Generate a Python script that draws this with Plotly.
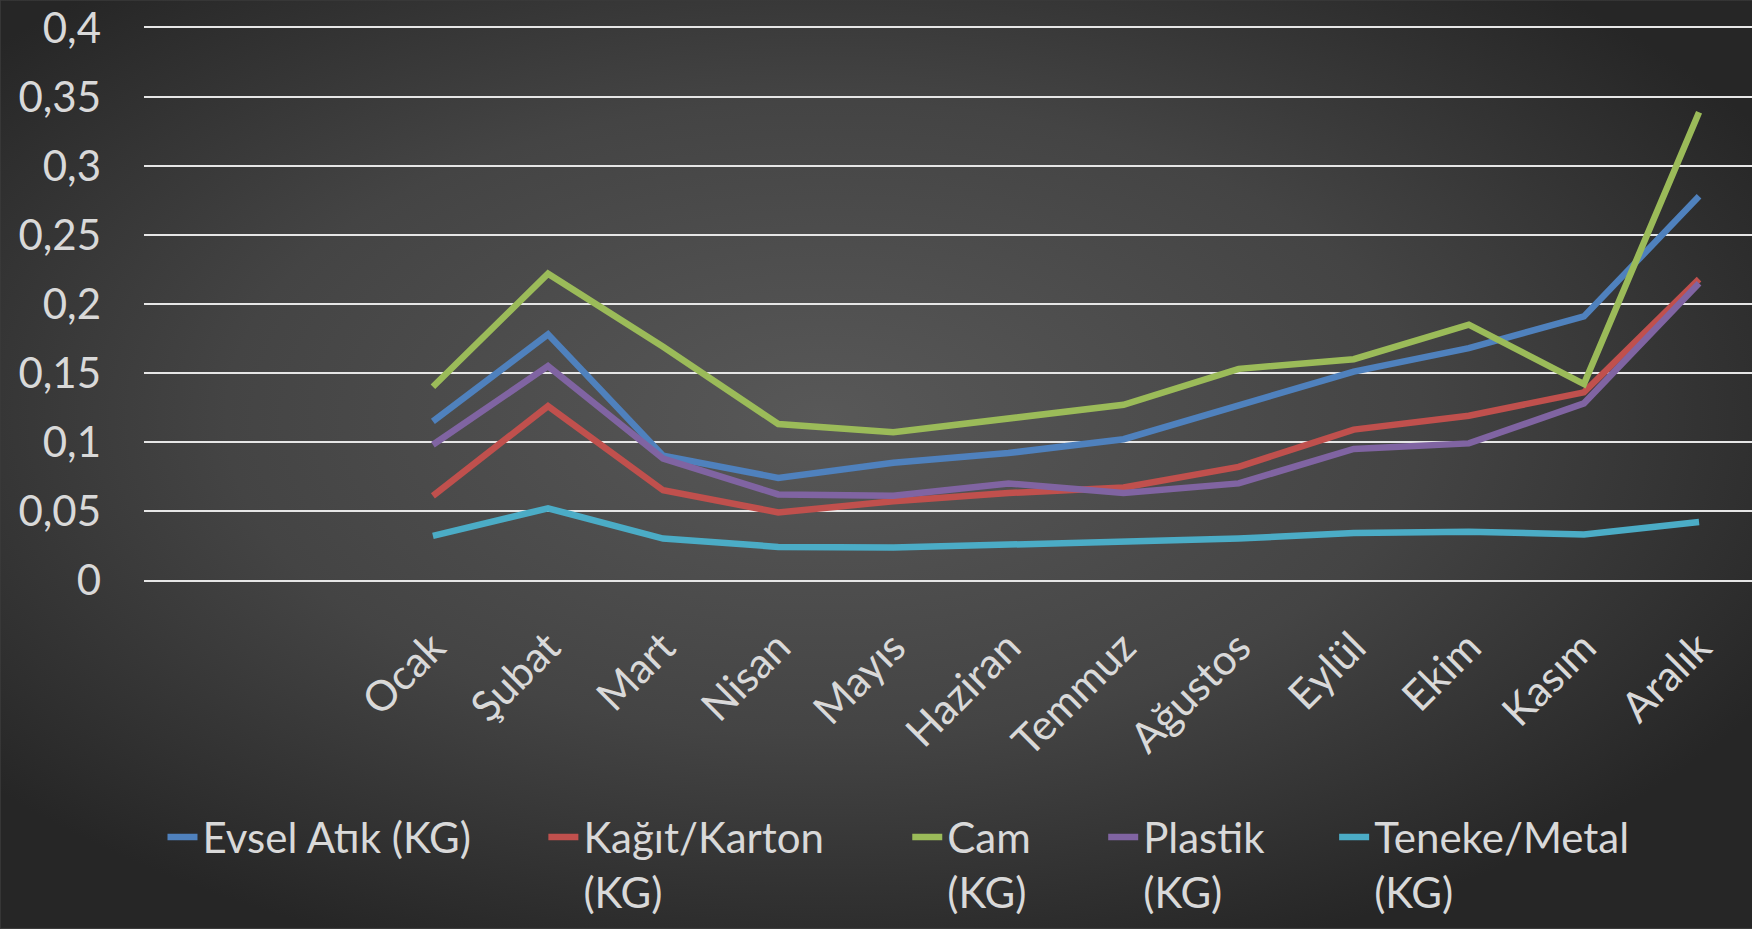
import base64
import plotly.graph_objects as go

months = ["Ocak", "Şubat", "Mart", "Nisan", "Mayıs", "Haziran", "Temmuz",
          "Ağustos", "Eylül", "Ekim", "Kasım", "Aralık"]
evsel = [0.115, 0.178, 0.090, 0.074, 0.085, 0.092, 0.102, 0.127, 0.151, 0.168, 0.191, 0.278]
kagit = [0.061, 0.126, 0.065, 0.049, 0.057, 0.063, 0.067, 0.082, 0.109, 0.119, 0.136, 0.218]
cam = [0.140, 0.222, 0.169, 0.113, 0.107, 0.117, 0.127, 0.153, 0.160, 0.185, 0.142, 0.339]
plastik = [0.098, 0.155, 0.088, 0.062, 0.061, 0.070, 0.063, 0.070, 0.095, 0.099, 0.128, 0.215]
teneke = [0.032, 0.052, 0.030, 0.024, 0.0235, 0.0255, 0.027, 0.030, 0.034, 0.035, 0.033, 0.042]

series_names = ["Evsel Atık (KG)", "Kağıt/Karton<br>(KG)", "Cam<br>(KG)",
                "Plastik<br>(KG)", "Teneke/Metal<br>(KG)"]
series_values = [evsel, kagit, cam, plastik, teneke]
colors = ["#4F81BD", "#C0504D", "#9BBB59", "#8064A2", "#4BACC6"]

y_ticks = [0, 0.05, 0.1, 0.15, 0.2, 0.25, 0.3, 0.35, 0.4]
y_tick_text = ["0", "0,05", "0,1", "0,15", "0,2", "0,25", "0,3", "0,35", "0,4"]

W, H = 1752, 929
ML, MR, MT, MB = 143.5, 0, 27.6, 348.5
PW, PH = W - ML - MR, H - MT - MB

# legend item left edges (pixels) for each series
legend_px = [162, 543, 907, 1103, 1334]
legend_top_px = 804

svg = f'''<svg xmlns="http://www.w3.org/2000/svg" width="{W}" height="{H}" viewBox="0 0 {W} {H}" preserveAspectRatio="none">
<defs><radialGradient id="g" cx="0.47" cy="0.45" r="0.62" gradientUnits="objectBoundingBox">
<stop offset="0" stop-color="#585858"/><stop offset="0.55" stop-color="#444444"/><stop offset="1" stop-color="#262626"/>
</radialGradient></defs><rect x="0" y="0" width="{W}" height="{H}" fill="url(#g)"/></svg>'''
bg_src = "data:image/svg+xml;base64," + base64.b64encode(svg.encode()).decode()

font_family = "Lato, 'Open Sans', sans-serif"
txt_col = "#d9d9d9"
FS = 42

fig = go.Figure()
legend_layouts = {}
for i, (name, vals, col) in enumerate(zip(series_names, series_values, colors)):
    lg = "legend" if i == 0 else f"legend{i + 1}"
    fig.add_trace(go.Scatter(x=list(range(len(months))), y=vals, mode="lines", name=name,
                             line=dict(color=col, width=6.5), legend=lg))
    legend_layouts[lg] = dict(
        orientation="h", x=(legend_px[i] - ML) / PW, xanchor="left",
        y=-(legend_top_px - (MT + PH)) / PH, yanchor="top",
        font=dict(size=FS, color=txt_col, family=font_family),
        bgcolor="rgba(0,0,0,0)", borderwidth=0, valign="top", itemwidth=30)

fig.update_layout(
    width=W, height=H,
    margin=dict(l=ML, r=MR, t=MT, b=MB, pad=0),
    paper_bgcolor="#3a3a3a",
    plot_bgcolor="rgba(0,0,0,0)",
    font=dict(family=font_family, color=txt_col, size=FS),
    images=[dict(source=bg_src, xref="paper", yref="paper", x=-ML / PW, y=1 + MT / PH,
                 sizex=W / PW, sizey=H / PH, sizing="stretch", layer="below",
                 xanchor="left", yanchor="top")],
    xaxis=dict(range=[-2.51, 11.46], tickmode="array", tickvals=list(range(len(months))),
               ticktext=months, tickangle=-45, showgrid=False, zeroline=False,
               showline=True, mirror=True, linecolor="#e6e6e6", linewidth=1.6,
               ticks="", ticklabelstandoff=24, tickfont=dict(size=FS, color=txt_col)),
    yaxis=dict(range=[0, 0.4], tickmode="array", tickvals=y_ticks, ticktext=y_tick_text,
               showgrid=True, gridcolor="#e6e6e6", gridwidth=1.6, zeroline=False,
               showline=False, ticks="", ticklabelstandoff=42,
               tickfont=dict(size=FS, color=txt_col)),
    showlegend=True,
    **legend_layouts,
)

fig.write_html("out.html", config={"displayModeBar": False},
               post_script="document.body.style.margin='0';")
